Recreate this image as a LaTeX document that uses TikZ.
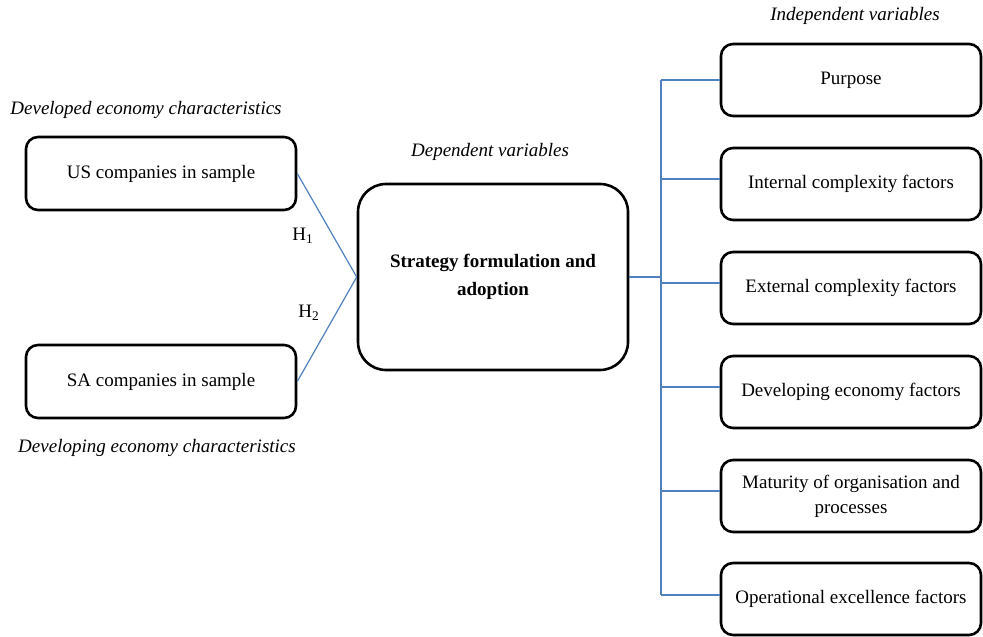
\documentclass[tikz,border=0pt]{standalone}
\usepackage{fontspec}
\setmainfont{Liberation Serif}
\usetikzlibrary{positioning}
\definecolor{linkblue}{RGB}{79,129,189}
\tikzset{
  varbox/.style={draw,line width=1.3pt,rounded corners=6pt,
    minimum width=130pt,minimum height=36pt,align=center,
    font=\fontsize{9.5}{12.5}\selectfont},
  link/.style={draw=linkblue,line width=0.6pt},
  caption/.style={font=\fontsize{9.5}{12}\selectfont\itshape}
}
\begin{document}
\begin{tikzpicture}[x=0.5pt,y=-0.5pt]
  \useasboundingbox (0,0) rectangle (983,636);
  % Sample groups on the left.
  \node[varbox,minimum width=135pt,minimum height=36.5pt] (us) at (161,173.5) {US companies in sample};
  \node[varbox,minimum width=135pt,minimum height=36.5pt] (sa) at (161,381.5) {SA companies in sample};
  \node[caption] (devd) at (146,110) {Developed economy characteristics};
  \node[caption] (devg) at (157,448) {Developing economy characteristics};
  % Dependent variable in the middle.
  \node[varbox,minimum width=135pt,minimum height=93pt,rounded corners=14pt,
    font=\fontsize{9.5}{14}\selectfont\bfseries] (dep) at (493,277)
    {Strategy formulation and\\adoption};
  \node[caption] (deplbl) at (490,152) {Dependent variables};
  \draw[link] (us.east) -- (dep.west);
  \draw[link] (sa.east) -- (dep.west);
  \node[font=\fontsize{9.5}{12}\selectfont] (h1) at (303,236) {H\textsubscript{1}};
  \node[font=\fontsize{9.5}{12}\selectfont] (h2) at (309,313) {H\textsubscript{2}};
  % Independent variables on the right.
  \node[caption] (indlbl) at (855,16) {Independent variables};
  \coordinate (trunk) at (661,277);
  \foreach \name/\y/\dy/\txt in {purpose/80/0/Purpose,
      internal/184/2.5/Internal complexity factors,
      external/288/2.5/External complexity factors,
      economy/392/2.5/Developing economy factors,
      maturity/496/2.5/{Maturity of organisation and\\processes},
      excellence/599/2/Operational excellence factors}{
    \node[varbox] (\name) at (851,\y) {\txt};
    \coordinate (\name-in) at ([yshift=\dy pt]\name.west -| trunk);
    \draw[link] (\name-in) -- ([yshift=\dy pt]\name.west);
  }
  \draw[link] (purpose-in) -- (excellence-in);
  \draw[link] (dep.east) -- (trunk);
\end{tikzpicture}
\end{document}
